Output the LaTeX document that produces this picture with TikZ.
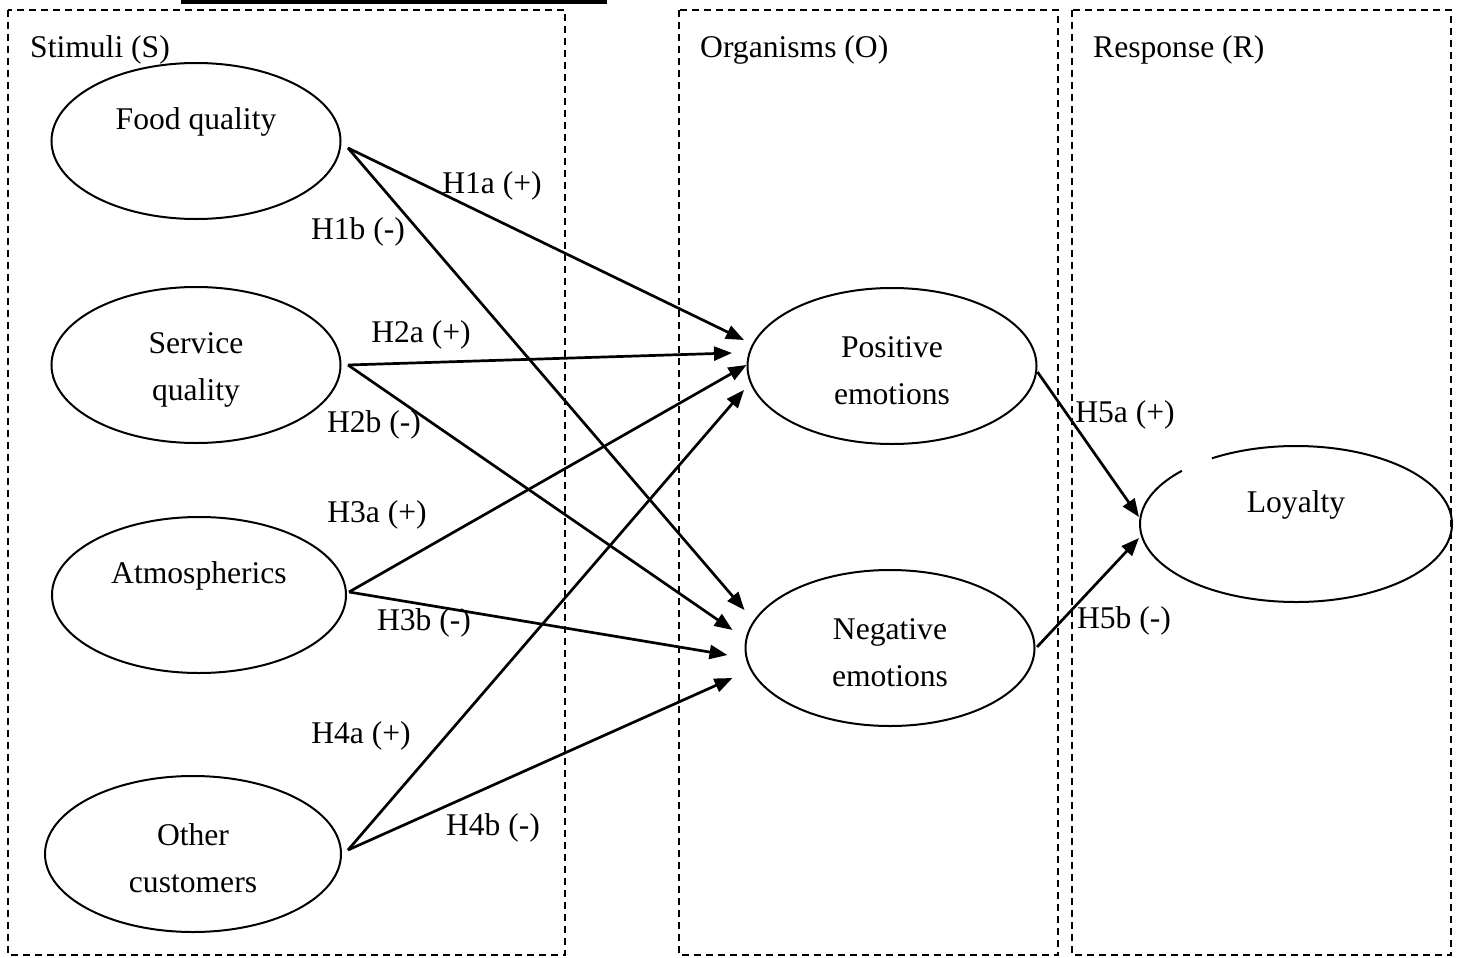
\documentclass[tikz,border=0pt]{standalone}
\usepackage{fontspec}
\setmainfont{Liberation Serif}
\usetikzlibrary{arrows.meta,shapes.geometric}
\newcommand\fsz{\fontsize{31.6}{47}\selectfont}
\newcommand\topstrut{\rule{0pt}{30pt}}
\begin{document}
\begin{tikzpicture}[x=1pt,y=-1pt,
  ell/.style={ellipse,draw,line width=2pt,minimum width=289pt,minimum height=156pt,inner sep=0pt,align=center,font=\fsz},
  grp/.style={draw,dash pattern=on 7pt off 5pt,line width=1.6pt},
  arr/.style={line width=2.7pt,-{Triangle[length=18pt,width=14pt]}},
  lab/.style={font=\fsz,inner sep=0pt}]
\useasboundingbox (0,0) rectangle (1464,958);
% top bar
\fill (181,0) rectangle (607,4);
% group boxes
\draw[grp] (8,10) rectangle (565,955);
\draw[grp] (679,10) rectangle (1058,955);
\draw[grp] (1072,10) rectangle (1451,955);
\node[lab,anchor=west] (ts) at (30,50) {Stimuli (S)};
\node[lab,anchor=west] (to) at (700,50) {Organisms (O)};
\node[lab,anchor=west] (tr) at (1093,50) {Response (R)};
% stimuli
\node[ell] (fq) at (196,141) {\topstrut Food quality\\\phantom{quality}};
\node[ell] (sq) at (196,365) {\topstrut Service\\quality};
\node[ell,minimum width=294pt] (at) at (199,595) {\topstrut Atmospherics\\\phantom{quality}};
\node[ell,minimum width=296pt] (oc) at (193,854) {\topstrut Other\\customers};
% organisms
\node[ell] (pe) at (892,366) {\topstrut Positive\\emotions};
\node[ell] (ne) at (890,648) {\topstrut Negative\\emotions};
% response
\node[ell,draw=none,minimum width=312pt] (ly) at (1296,524) {\topstrut Loyalty\\\phantom{quality}};
\draw[line width=2pt] ([shift={(122.6:156pt and 78pt)}]ly.center) arc[start angle=122.6, end angle=-223, x radius=156pt, y radius=78pt];
% arrows
\draw[arr] ([shift={(6.5,7)}]fq.east) -- ([shift={(-2.5,-26)}]pe.west);
\draw[arr] ([shift={(6.5,7)}]fq.east) -- ([shift={(0,-38)}]ne.west);
\draw[arr] ([shift={(6.5,0)}]sq.east) -- ([shift={(-14.5,-13)}]pe.west);
\draw[arr] ([shift={(6.5,0)}]sq.east) -- ([shift={(-12,-18)}]ne.west);
\draw[arr] ([shift={(2,-3)}]at.east) -- ([shift={(0,-1)}]pe.west);
\draw[arr] ([shift={(2,-3)}]at.east) -- ([shift={(-17,7)}]ne.west);
\draw[arr] ([shift={(6,-4)}]oc.east) -- ([shift={(-2.5,24)}]pe.west);
\draw[arr] ([shift={(6,-4)}]oc.east) -- ([shift={(-12,30)}]ne.west);
\draw[arr] ([shift={(0,6)}]pe.east) -- ([shift={(0,-7)}]ly.west);
\draw[arr] ([shift={(1.5,-1)}]ne.east) -- ([shift={(0,14)}]ly.west);
% labels
\node[lab] (l1a) at (492,186) {H1a (+)};
\node[lab] (l1b) at (358,232) {H1b (-)};
\node[lab] (l2a) at (421,335) {H2a (+)};
\node[lab] (l2b) at (374,425) {H2b (-)};
\node[lab] (l3a) at (377,515) {H3a (+)};
\node[lab] (l3b) at (424,623) {H3b (-)};
\node[lab] (l4a) at (361,736) {H4a (+)};
\node[lab] (l4b) at (493,828) {H4b (-)};
\node[lab] (l5a) at (1125,415) {H5a (+)};
\node[lab] (l5b) at (1124,621) {H5b (-)};
\end{tikzpicture}
\end{document}
